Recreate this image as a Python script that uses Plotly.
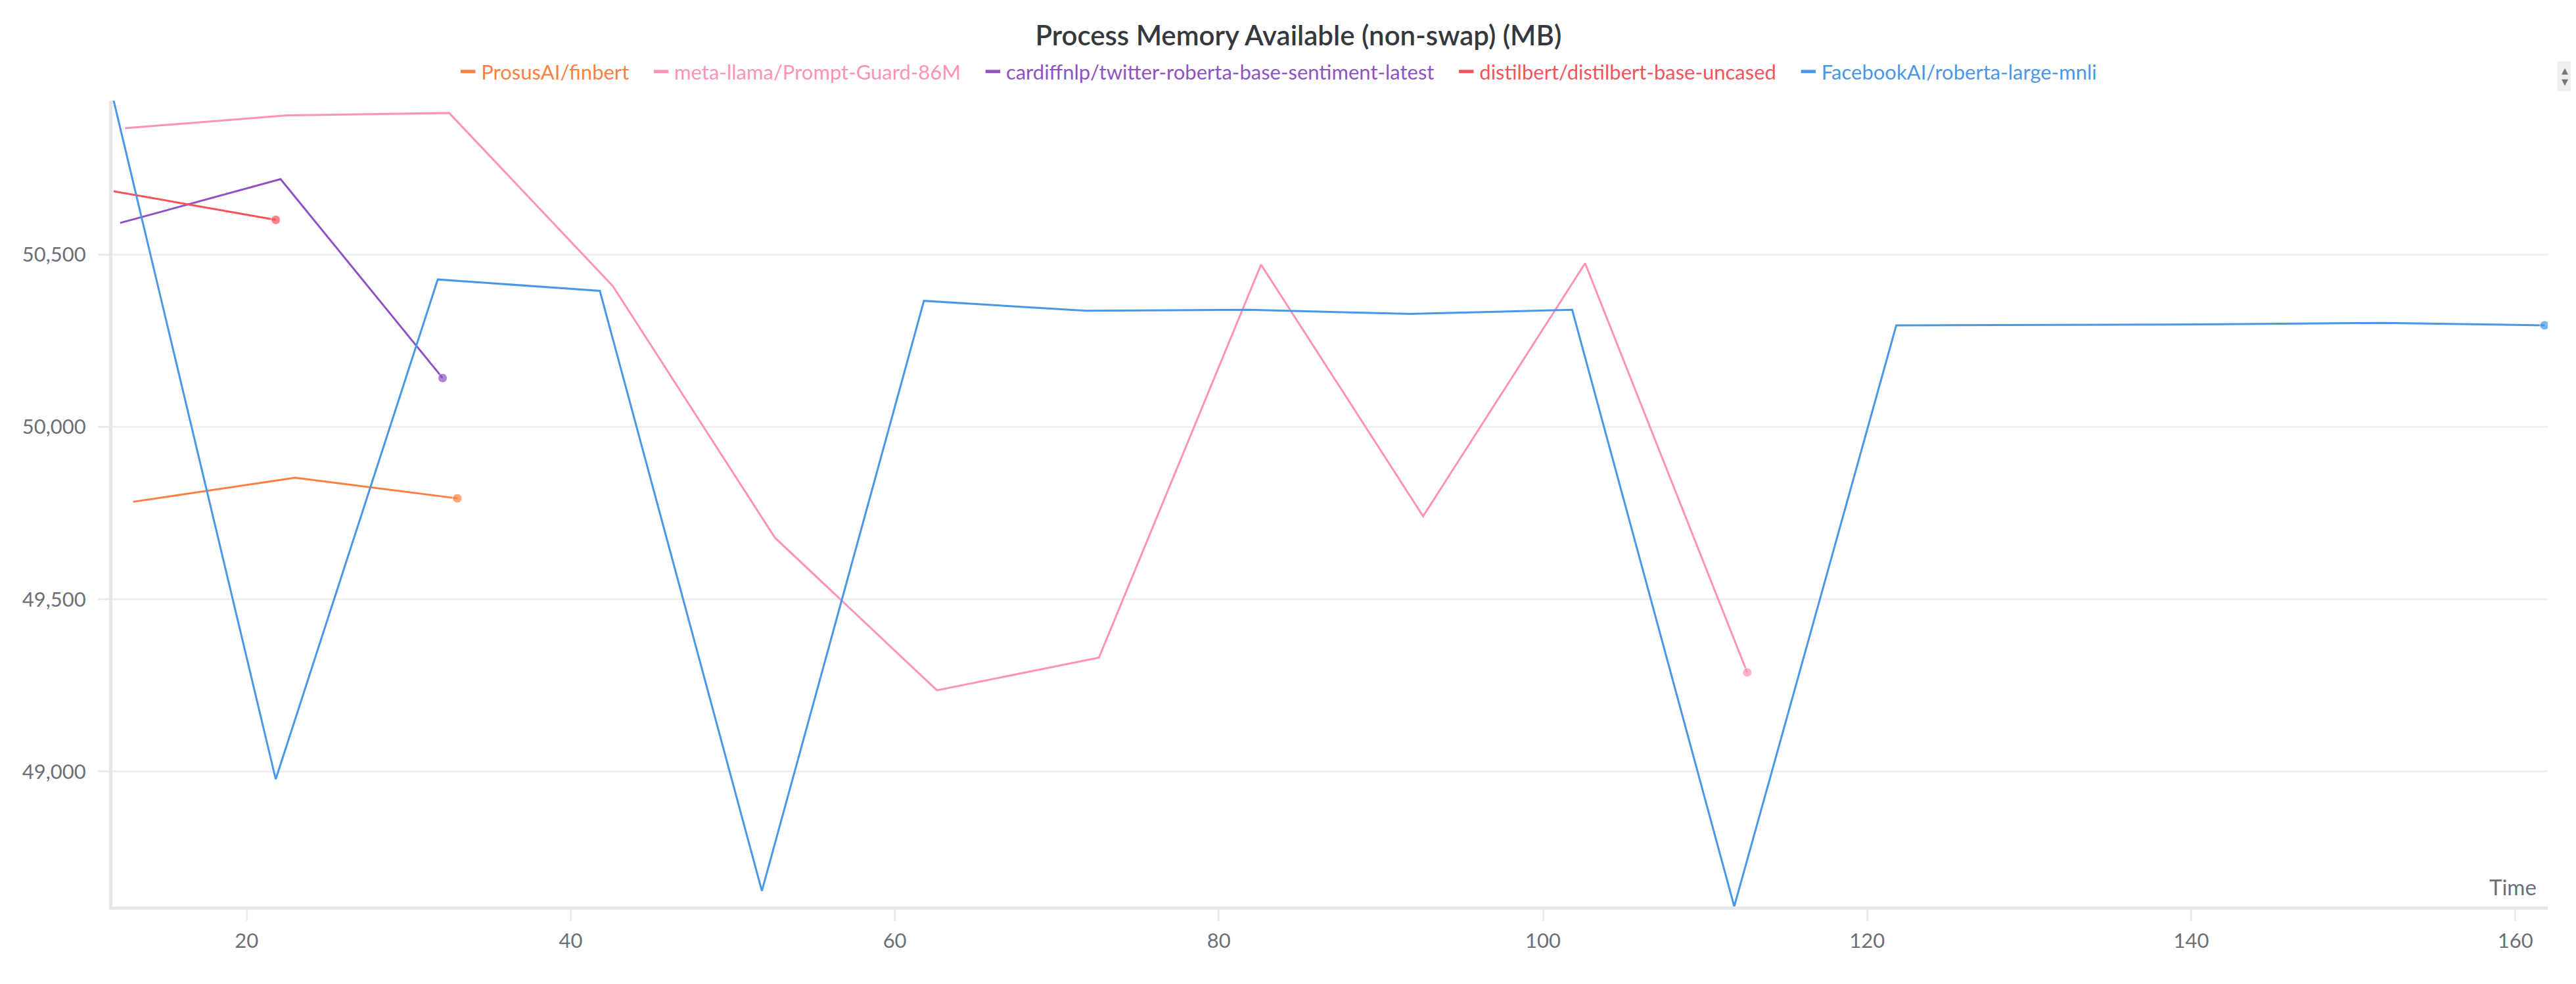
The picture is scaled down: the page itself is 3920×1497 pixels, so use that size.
import plotly.graph_objects as go

# data (time in seconds, memory in MB)
finbert_t = [13.0, 23.0, 33.0]
finbert_mb = [49783, 49853, 49793]

guard_t = [12.5, 22.5, 32.5, 42.6, 52.6, 62.6, 72.6, 82.6, 92.6, 102.6, 112.6]
guard_mb = [50867, 50904, 50911, 50409, 49679, 49236, 49331, 50471, 49741, 50475, 49288]

twitter_t = [12.2, 22.1, 32.1]
twitter_mb = [50592, 50719, 50142]

distil_t = [11.8, 21.8]
distil_mb = [50684, 50601]

roberta_t = [11.8, 21.8, 31.8, 41.8, 51.8, 61.8, 71.8, 81.8, 91.8, 101.8,
             111.8, 121.8, 131.8, 141.8, 151.8, 161.8]
roberta_mb = [50947, 48978, 50428, 50395, 48654, 50366, 50337, 50340, 50328, 50340,
              48609, 50295, 50296, 50298, 50302, 50295]

series = [
    ("ProsusAI/finbert", finbert_t, finbert_mb, "#ff7f40"),
    ("meta-llama/Prompt-Guard-86M", guard_t, guard_mb, "#ff92b9"),
    ("cardiffnlp/twitter-roberta-base-sentiment-latest", twitter_t, twitter_mb, "#8f52c4"),
    ("distilbert/distilbert-base-uncased", distil_t, distil_mb, "#f8525a"),
    ("FacebookAI/roberta-large-mnli", roberta_t, roberta_mb, "#4a97e8"),
]

FONT = "Lato"
W, H = 3920, 1497
L, R, T, B = 163, 51, 145, 126

fig = go.Figure()

# lines with a dot on the last point
for name, t, mb, color in series:
    fig.add_trace(go.Scatter(
        x=t, y=mb,
        mode="lines+markers",
        line=dict(color=color, width=3),
        marker=dict(color=color, size=[0] * (len(t) - 1) + [14]),
        showlegend=False,
        name=name,
    ))

# legend entries: short thick dash with coloured label
for name, t, mb, color in series:
    fig.add_trace(go.Scatter(
        x=[None], y=[None],
        mode="markers",
        marker=dict(symbol="line-ew", size=22, line=dict(color=color, width=7)),
        name="<span style='color:%s'>%s</span>&nbsp;&nbsp;&nbsp;" % (color, name),
    ))

all_t = [v for s in series for v in s[1]]
all_mb = [v for s in series for v in s[2]]

plot_w = W - L - R
plot_h = H - T - B

fig.update_layout(
    width=W,
    height=H,
    margin=dict(l=L, r=R, t=T, b=B),
    paper_bgcolor="white",
    plot_bgcolor="white",
    font=dict(family=FONT, size=31, color="#6b6f77"),
    title=dict(
        text="Process Memory Available (non-swap) (MB)",
        x=0.502, xanchor="center",
        y=1 - 46 / H, yanchor="middle",
        font=dict(family=FONT, size=42, color="#35383d", weight=600),
    ),
    legend=dict(
        orientation="h",
        xref="container", x=0.497, xanchor="center",
        yref="container", y=1 - 101 / H, yanchor="middle",
        font=dict(family=FONT, size=31),
        itemwidth=30,
        bgcolor="rgba(0,0,0,0)",
    ),
    xaxis=dict(
        range=[min(all_t) - 0.08, max(all_t) + 0.2],
        dtick=20,
        showgrid=False,
        zeroline=False,
        showline=True, linecolor="#e6e6e9", linewidth=5,
        ticks="outside", ticklen=17, tickwidth=3, tickcolor="#ececee",
        ticklabelstandoff=4,
        tickfont=dict(family=FONT, size=31, color="#6b6f77"),
    ),
    yaxis=dict(
        range=[min(all_mb), max(all_mb)],
        dtick=500,
        tickformat=",",
        showgrid=True, gridcolor="#f0f0f2", gridwidth=3,
        zeroline=False,
        showline=True, linecolor="#e6e6e9", linewidth=5,
        ticks="outside", ticklen=17, tickwidth=3, tickcolor="#ececee",
        ticklabelstandoff=12,
        tickfont=dict(family=FONT, size=31, color="#6b6f77"),
    ),
    annotations=[
        dict(
            text="Time", xref="paper", yref="paper", x=1, y=0,
            xanchor="right", yanchor="bottom", xshift=-15, yshift=8,
            showarrow=False, font=dict(family=FONT, size=33, color="#6b6f77"),
        ),
        # legend scroll toggle in the top right corner
        dict(
            text="▲<br>▼", xref="paper", yref="paper",
            x=(3907 - L) / plot_w, y=(H - B - 108) / plot_h,
            xanchor="right", yanchor="middle", showarrow=False,
            bgcolor="#efefef", borderpad=6,
            font=dict(family="DejaVu Sans", size=13, color="#777777"),
        ),
    ],
)

fig.write_html("out.html")
